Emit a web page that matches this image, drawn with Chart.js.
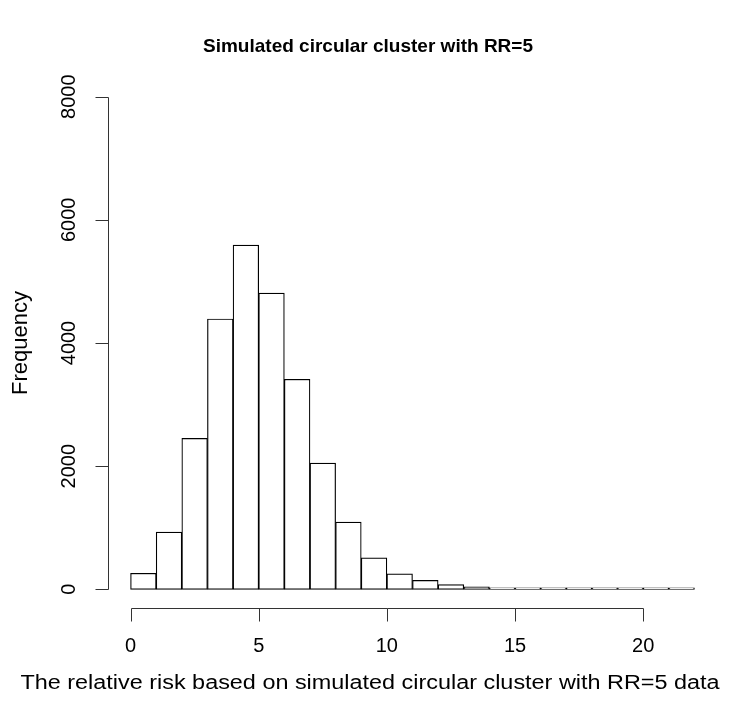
<!DOCTYPE html>
<html>
<head>
<meta charset="utf-8">
<script src="https://cdn.jsdelivr.net/npm/chart.js@4"></script>
<style>
  body { margin: 0; background: #fff; }
  #wrap { width: 736px; height: 709px; position: relative; }
</style>
</head>
<body>
<div id="wrap"><canvas id="histChart"></canvas></div>
<script>
// histogram bins (relative risk), width 1
const binStarts = [0, 1, 2, 3, 4, 5, 6, 7, 8, 9, 10, 11, 12, 13, 14, 15, 16, 17, 18, 19, 20, 21];
const binEnds   = [1, 2, 3, 4, 5, 6, 7, 8, 9, 10, 11, 12, 13, 14, 15, 16, 17, 18, 19, 20, 21, 22];
const counts    = [260, 930, 2450, 4390, 5590, 4810, 3410, 2050, 1090, 510, 250, 145, 75, 40, 20, 10, 6, 4, 3, 2, 1, 1];

const xTicks = [0, 5, 10, 15, 20];
const yTicks = [0, 2000, 4000, 6000, 8000];

const titleText = 'Simulated circular cluster with RR=5';
const xLabel = 'The relative risk based on simulated circular cluster with RR=5 data';
const yLabel = 'Frequency';

const FONT = '"Liberation Sans", Arial, Helvetica, sans-serif';

// R style axes + labels, drawn from the chart scales
const rAxes = {
    id: 'rAxes',
    afterDraw(chart) {
        const { ctx, chartArea, scales: { x, y } } = chart;
        ctx.save();
        ctx.strokeStyle = '#333';
        ctx.lineWidth = 1;
        ctx.fillStyle = '#000';

        // x axis
        const ay = Math.round(chartArea.bottom - 1) + 0.5;
        const x0 = x.getPixelForValue(xTicks[0]);
        const x1 = x.getPixelForValue(xTicks[xTicks.length - 1]);
        ctx.beginPath();
        ctx.moveTo(Math.round(x0) + 0.5, ay);
        ctx.lineTo(Math.round(x1) + 0.5, ay);
        xTicks.forEach(v => {
            const px = Math.round(x.getPixelForValue(v)) + 0.5;
            ctx.moveTo(px, ay);
            ctx.lineTo(px, ay + 13);
        });
        ctx.stroke();

        ctx.font = '20px ' + FONT;
        ctx.textAlign = 'center';
        ctx.textBaseline = 'middle';
        xTicks.forEach(v => ctx.fillText(String(v), x.getPixelForValue(v), ay + 38));

        // y axis
        const ax = Math.round(chartArea.left) + 0.5;
        const y0 = y.getPixelForValue(yTicks[0]);
        const y1 = y.getPixelForValue(yTicks[yTicks.length - 1]);
        ctx.beginPath();
        ctx.moveTo(ax, Math.round(y0) + 0.5);
        ctx.lineTo(ax, Math.round(y1) + 0.5);
        yTicks.forEach(v => {
            const py = Math.round(y.getPixelForValue(v)) + 0.5;
            ctx.moveTo(ax, py);
            ctx.lineTo(ax - 13, py);
        });
        ctx.stroke();

        yTicks.forEach(v => {
            ctx.save();
            ctx.translate(ax - 39, y.getPixelForValue(v));
            ctx.rotate(-Math.PI / 2);
            ctx.fillText(String(v), 0, 0);
            ctx.restore();
        });

        const cy = (chartArea.top + chartArea.bottom) / 2;

        // axis titles (x label is a bit wider in the original, stretch it)
        ctx.save();
        ctx.translate(370, 683);
        ctx.scale(1.17, 1);
        ctx.fillText(xLabel, 0, 0);
        ctx.restore();

        ctx.font = '22px ' + FONT;
        ctx.save();
        ctx.translate(21, cy);
        ctx.rotate(-Math.PI / 2);
        ctx.fillText(yLabel, 0, 0);
        ctx.restore();

        // main title
        ctx.font = 'bold 19px ' + FONT;
        ctx.fillText(titleText, 368, 47);

        ctx.restore();
    }
};

const context = document.getElementById('histChart').getContext('2d');
new Chart(context, {
    type: 'bar',
    data: {
        datasets: [{
            label: 'Frequency',
            data: counts.map((c, i) => ({ x: (binStarts[i] + binEnds[i]) / 2, y: c })),
            backgroundColor: '#fff',
            borderColor: '#000',
            borderWidth: 1.2,
            borderSkipped: false,
            barPercentage: 1,
            categoryPercentage: 1,
            minBarLength: 1.5
        }]
    },
    options: {
        responsive: true,
        maintainAspectRatio: false,
        animation: false,
        layout: { padding: { left: 108, right: 19, top: 77, bottom: 100 } },
        scales: {
            x: { type: 'linear', min: -0.88, max: 22.88, offset: false, display: false },
            y: { type: 'linear', min: -320, max: 8320, display: false }
        },
        plugins: {
            legend: { display: false },
            tooltip: { enabled: false },
            title: { display: false }
        }
    },
    plugins: [rAxes]
});
</script>
</body>
</html>
